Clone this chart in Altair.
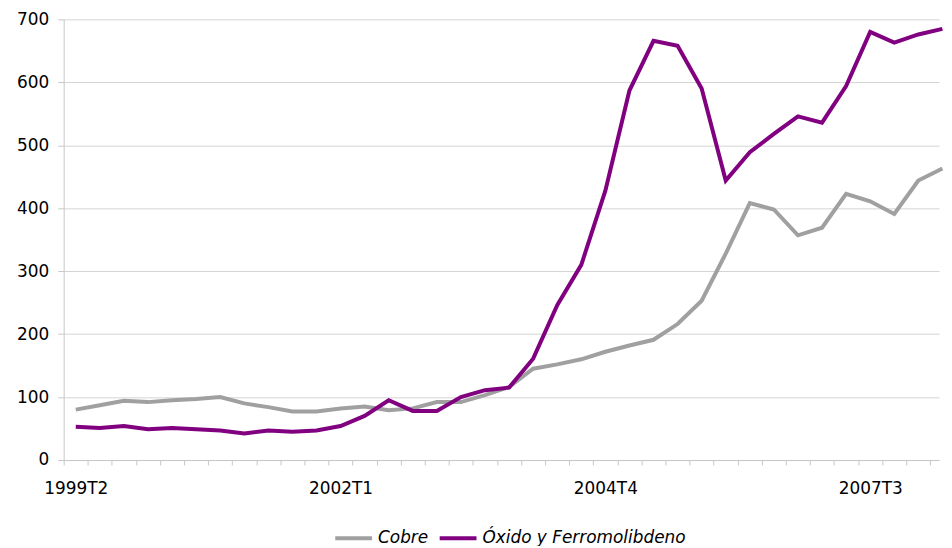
import altair as alt
import pandas as pd

quarters = [f"{y}T{q}" for y in range(1999, 2009) for q in range(1, 5)][1:38]
cobre = [80, 87, 94, 92, 95, 97, 100, 90, 84, 77, 77, 82, 85, 79, 82, 92, 92, 103, 116,
         145, 152, 160, 172, 182, 191, 216, 253, 328, 408, 398, 357, 369, 423, 411, 391, 444, 463]
oxido = [53, 51, 54, 49, 51, 49, 47, 42, 47, 45, 47, 54, 70, 95, 78, 78, 100, 111, 115,
         161, 246, 310, 428, 587, 666, 658, 590, 444, 489, 518, 546, 536, 594, 680, 663, 676, 685]
series = ["Cobre", "Óxido y Ferromolibdeno"]
colors = ["#a0a0a0", "#800080"]
shown_labels = ["1999T2", "2002T1", "2004T4", "2007T3"]

rows = []
for name, vals in zip(series, [cobre, oxido]):
    for i, v in enumerate(vals):
        rows.append({"serie": name, "idx": i, "q": quarters[i], "valor": v})
df = pd.DataFrame(rows)

# label expression: tick values sit on category boundaries (idx - 0.5)
expr = "''"
for lab in reversed(shown_labels):
    k = quarters.index(lab)
    expr = f"(round(datum.value + 0.5) == {k}) ? '{lab}' : {expr}"

tick_vals = [i - 0.5 for i in range(len(quarters))]
FONT = "DejaVu Sans"

chart = alt.Chart(df).mark_line(strokeWidth=4, strokeJoin="miter").encode(
    x=alt.X("idx:Q",
            scale=alt.Scale(domain=[-0.5, 35.86], nice=False, zero=False),
            axis=alt.Axis(values=tick_vals, labelExpr=expr, labelOffset=12.1,
                          labelFlush=False, labelOverlap=False, grid=False,
                          tickSize=5, tickColor="#c8c8c8", domainColor="#c8c8c8",
                          labelPadding=16, labelFontSize=17, labelFont=FONT,
                          labelColor="#000000", title=None)),
    y=alt.Y("valor:Q",
            scale=alt.Scale(domain=[0, 700], nice=False),
            axis=alt.Axis(values=list(range(0, 701, 100)), grid=True, gridColor="#d4d4d4",
                          tickSize=6, tickColor="#c8c8c8", domainColor="#c8c8c8",
                          labelPadding=9, labelFontSize=17, labelFont=FONT,
                          labelColor="#000000", title=None)),
    color=alt.Color("serie:N",
                    scale=alt.Scale(domain=series, range=colors),
                    legend=alt.Legend(title=None, orient="none", direction="horizontal",
                                      legendX=271, legendY=501,
                                      symbolType="stroke", symbolSize=1369,
                                      symbolStrokeWidth=4, labelFontSize=17,
                                      labelFont=FONT, labelFontStyle="italic",
                                      labelColor="#000000", labelOffset=4,
                                      labelLimit=0, columnPadding=3, padding=0)),
    detail="serie:N",
).properties(
    width=880, height=443,
    autosize=alt.AutoSizeParams(type="none"),
    padding={"left": 56, "top": 10, "right": 5, "bottom": 85},
).configure_view(stroke=None)

chart.save("out.html", embed_options={"renderer": "svg", "actions": False})
